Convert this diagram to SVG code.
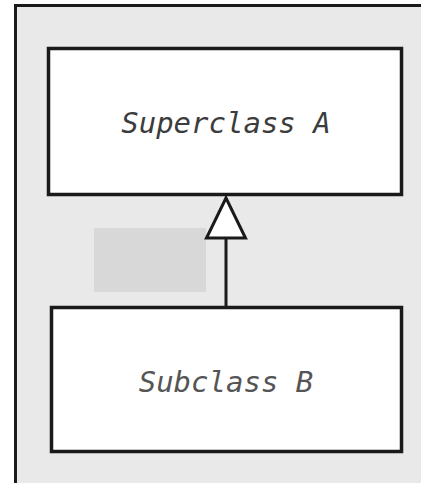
<svg xmlns="http://www.w3.org/2000/svg" width="421" height="483" viewBox="0 0 421 483">
<style>
.cls{fill:#ffffff;stroke:#1a1a1a;stroke-width:3.5}
.lbl{font-family:"DejaVu Sans Mono","Liberation Mono",monospace;font-style:italic;font-size:29px;text-anchor:middle}
.conn{stroke:#1a1a1a;stroke-width:3;fill:none}
</style>
<rect x="0" y="0" width="421" height="483" fill="#ffffff"/>
<rect id="frame" x="15.5" y="5.5" width="420" height="500" fill="#e8e9e8" stroke="#1a1a1a" stroke-width="3"/>
<rect id="shade" x="94" y="228" width="112" height="64" fill="#d8d8d8"/>
<g id="connectors">
<path class="conn" d="M226,307 L226,239"/>
<polygon points="226,198 206.5,238 245.5,238" fill="#ffffff" stroke="#1a1a1a" stroke-width="3"/>
</g>
<g id="superclassA">
<rect class="cls" x="48.5" y="48.5" width="353" height="146"/>
<text class="lbl" x="226" y="133" fill="#3c3c3c">Superclass A</text>
</g>
<g id="subclassB">
<rect class="cls" x="51.5" y="307.5" width="350" height="144"/>
<text class="lbl" x="226" y="392" fill="#555555">Subclass B</text>
</g>
</svg>
